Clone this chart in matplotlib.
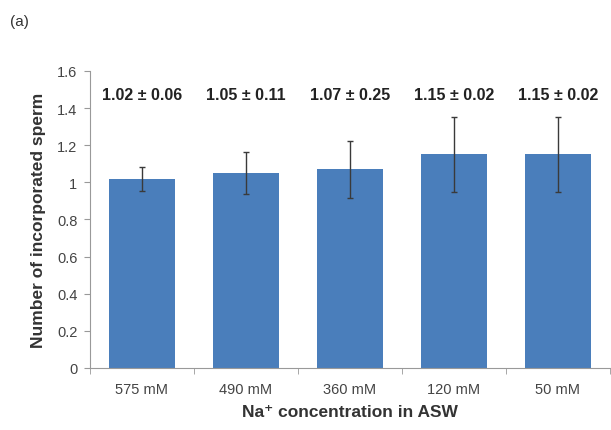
import matplotlib
matplotlib.use("Agg")
import matplotlib.pyplot as plt

# ------------------------------
# Data
# ------------------------------
categories = ["575 mM", "490 mM", "360 mM", "120 mM", "50 mM"]
means = [1.02, 1.05, 1.07, 1.15, 1.15]
errors = [0.065, 0.115, 0.155, 0.20, 0.20]
labels = ["1.02 \u00b1 0.06", "1.05 \u00b1 0.11", "1.07 \u00b1 0.25",
          "1.15 \u00b1 0.02", "1.15 \u00b1 0.02"]
yticks = [0, 0.2, 0.4, 0.6, 0.8, 1, 1.2, 1.4, 1.6]

plt.rcParams["font.family"] = ["Liberation Sans", "DejaVu Sans"]

fig = plt.figure(figsize=(6.11, 4.31), dpi=100)
ax = fig.add_axes([0.147, 0.144, 0.851, 0.689])

x = list(range(len(categories)))
ax.bar(x, means, width=0.63, color="#4a7ebb", zorder=2)
ax.errorbar(x, means, yerr=errors, fmt="none", ecolor="#3a3a3a",
            elinewidth=1, capsize=2.5, capthick=1, zorder=3)

for xi, lab in zip(x, labels):
    ax.text(xi, 1.475, lab, ha="center", va="center", fontsize=11.5,
            fontweight="bold", color="#222222")

ax.set_xlim(-0.5, 4.5)
ax.set_ylim(0, 1.6)
ax.set_yticks(yticks)
ax.set_yticklabels([f"{t:g}" for t in yticks], fontsize=10.5, color="#444444")

ax.set_xticks(x)
ax.set_xticklabels(categories, fontsize=10.5, color="#444444")
ax.tick_params(axis="x", length=0, pad=10)
ax.set_xticks([i + 0.5 for i in range(-1, len(categories))], minor=True)
ax.tick_params(axis="x", which="minor", length=4, color="#999999")
ax.tick_params(axis="y", length=4, color="#999999", pad=5)

for s in ["top", "right"]:
    ax.spines[s].set_visible(False)
for s in ["left", "bottom"]:
    ax.spines[s].set_color("#999999")
    ax.spines[s].set_linewidth(0.8)

ax.set_ylabel("Number of incorporated sperm", fontsize=12.5, fontweight="bold",
              color="#333333", labelpad=8)
ax.set_xlabel("Na\u207a concentration in ASW", fontsize=12.5, fontweight="bold",
              color="#333333", labelpad=6)

fig.text(0.016, 0.95, "(a)", fontsize=11, color="#333333", va="center")

fig.savefig("out.png", dpi=100)
